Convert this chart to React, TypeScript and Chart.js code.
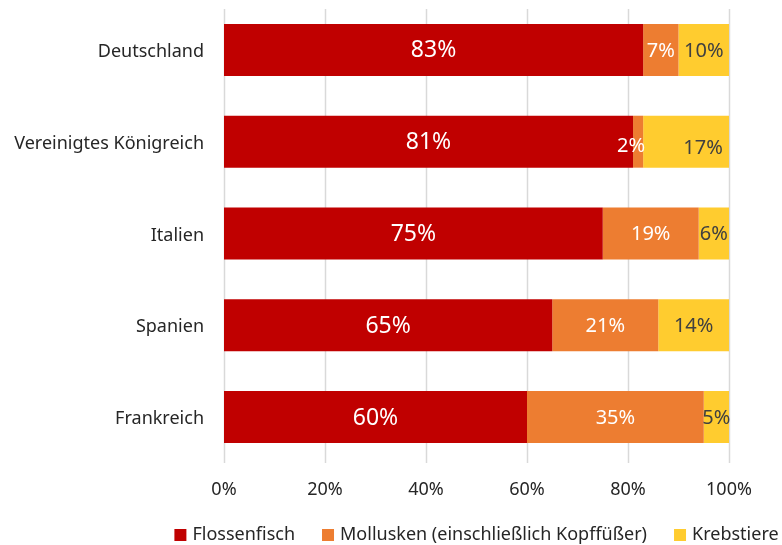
import { useEffect, useRef } from "react";
import { Chart, registerables } from "chart.js";

Chart.register(...registerables);

const categories = ["Deutschland", "Vereinigtes Königreich", "Italien", "Spanien", "Frankreich"];
const flossenfisch = [83, 81, 75, 65, 60];
const mollusken = [7, 2, 19, 21, 35];
const krebstiere = [10, 17, 6, 14, 5];
const seriesNames = ["Flossenfisch", "Mollusken (einschließlich Kopffüßer)", "Krebstiere"];
const seriesColors = ["#C00000", "#ED7D31", "#FFCC2F"];
const labelColors = ["#FFFFFF", "#FFFFFF", "#404040"];
const labelSizes = [23, 20, 20];
const xTickValues = [0, 20, 40, 60, 80, 100];

const FONT = "'Noto Sans', 'DejaVu Sans', sans-serif";
const TEXT = "#262626";

// small nudges for labels that sit off-centre in the reference (dataset-index)
const labelNudges: Record<string, [number, number]> = {
  "1-1": [-7, 4],
  "2-1": [17, 6],
};

const gridPlugin = {
  id: "customGrid",
  beforeDatasetsDraw(chart: any) {
    const { ctx, chartArea, scales } = chart;
    ctx.save();
    ctx.strokeStyle = "#D9D9D9";
    ctx.lineWidth = 1.5;
    xTickValues.forEach((v) => {
      const x = Math.round(scales.x.getPixelForValue(v)) + 0.5;
      ctx.beginPath();
      ctx.moveTo(x, chartArea.top + 5);
      ctx.lineTo(x, chartArea.bottom);
      ctx.stroke();
    });
    ctx.restore();
  },
};

const labelPlugin = {
  id: "segLabels",
  afterDatasetsDraw(chart: any) {
    const ctx = chart.ctx;
    ctx.save();
    ctx.textAlign = "center";
    ctx.textBaseline = "middle";
    chart.data.datasets.forEach((ds: any, di: number) => {
      const meta = chart.getDatasetMeta(di);
      ctx.fillStyle = labelColors[di];
      ctx.font = `${labelSizes[di]}px ${FONT}`;
      meta.data.forEach((el: any, i: number) => {
        const v = ds.data[i];
        const { x, y, base } = el.getProps(["x", "y", "base"], true);
        let cx = (x + base) / 2;
        let cy = y + 1;
        const n = labelNudges[`${di}-${i}`];
        if (n) {
          cx += n[0];
          cy += n[1];
        }
        ctx.fillText(`${v}%`, cx, cy);
      });
    });
    ctx.restore();
  },
};

const legendPlugin = {
  id: "customLegend",
  afterDraw(chart: any) {
    const { ctx, chartArea } = chart;
    ctx.save();
    ctx.font = `18px ${FONT}`;
    const box = 12;
    const boxGap = 6;
    const itemGap = 27;
    const widths = seriesNames.map((s) => ctx.measureText(s).width);
    const total =
      widths.reduce((a, w) => a + box + boxGap + w, 0) + itemGap * (seriesNames.length - 1);
    let x = (chartArea.left + chartArea.right) / 2 - total / 2;
    const cy = 535;
    ctx.textBaseline = "middle";
    ctx.textAlign = "left";
    seriesNames.forEach((s, i) => {
      ctx.fillStyle = seriesColors[i];
      ctx.fillRect(x, cy - box / 2, box, box);
      x += box + boxGap;
      ctx.fillStyle = TEXT;
      ctx.fillText(s, x, cy);
      x += widths[i] + itemGap;
    });
    ctx.restore();
  },
};

export default function App() {
  const canvasRef = useRef<HTMLCanvasElement | null>(null);

  useEffect(() => {
    document.body.style.margin = "0";
    const canvas = canvasRef.current;
    if (!canvas) return;
    const seriesData = [flossenfisch, mollusken, krebstiere];
    const chart = new Chart(canvas, {
      type: "bar",
      data: {
        labels: categories,
        datasets: seriesData.map((d, i) => ({
          label: seriesNames[i],
          data: d,
          backgroundColor: seriesColors[i],
          borderWidth: 0,
          categoryPercentage: 1,
          barPercentage: 0.566,
        })),
      },
      options: {
        indexAxis: "y",
        responsive: true,
        maintainAspectRatio: false,
        animation: false,
        layout: { padding: { top: 4, right: 53, left: 0, bottom: 0 } },
        plugins: {
          legend: { display: false },
          tooltip: { enabled: false },
        },
        scales: {
          x: {
            stacked: true,
            min: 0,
            max: 100,
            grid: { display: false, drawTicks: false },
            border: { display: false },
            ticks: {
              stepSize: 20,
              padding: 16,
              color: TEXT,
              font: { family: FONT, size: 18 },
              callback: (v: any) => `${v}%`,
            },
            afterFit: (scale: any) => {
              scale.height = 82;
            },
          },
          y: {
            stacked: true,
            grid: { display: false, drawTicks: false },
            border: { display: false },
            ticks: {
              padding: 20,
              labelOffset: 2,
              color: TEXT,
              font: { family: FONT, size: 18 },
            },
            afterFit: (scale: any) => {
              scale.width = 224;
              scale.paddingTop = 0;
              scale.paddingBottom = 0;
            },
          },
        },
      },
      plugins: [gridPlugin, labelPlugin, legendPlugin],
    });
    return () => chart.destroy();
  }, []);

  return (
    <div style={{ width: 782, height: 545, position: "relative" }}>
      <canvas ref={canvasRef} />
    </div>
  );
}
